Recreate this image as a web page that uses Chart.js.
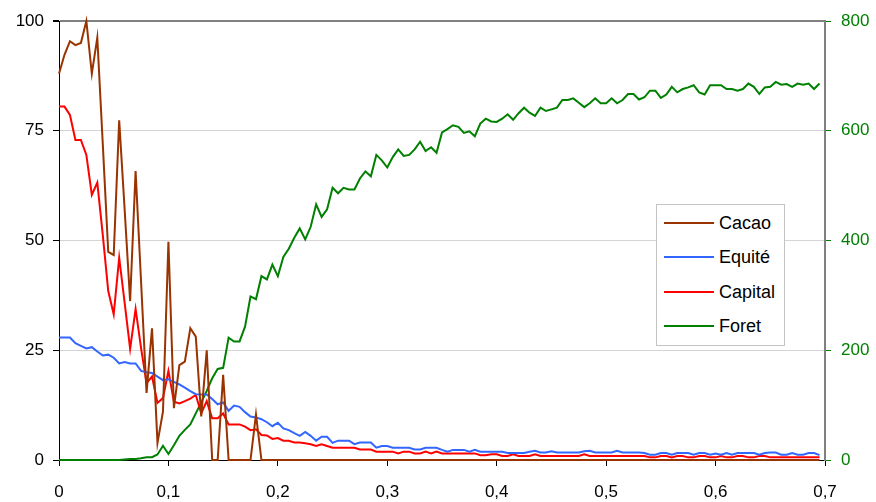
<!DOCTYPE html>
<html>
<head>
<meta charset="utf-8">
<script src="https://cdn.jsdelivr.net/npm/chart.js@4.4.1/dist/chart.umd.min.js"></script>
<style>
  body { margin: 0; background: #fff; }
  #wrap { position: relative; width: 876px; height: 502px; }
  #legend {
    position: absolute; left: 656px; top: 204px; width: 127px; height: 140px;
    border: 1px solid #c4c4c4; background: #fff;
    font-family: "Liberation Sans", Arial, sans-serif; font-size: 18px; color: #000;
  }
  #legend .row { position: absolute; left: 0; height: 20px; line-height: 20px; }
  #legend .swatch { position: absolute; left: 7px; top: 9px; width: 50px; height: 2px; }
  #legend .name { position: absolute; left: 62px; top: 0; white-space: nowrap; }
</style>
</head>
<body>
<div id="wrap">
  <canvas id="chart" width="876" height="502"></canvas>
  <div id="legend"></div>
</div>
<script>
const xValues = [
  0, 0.005, 0.01, 0.015, 0.02, 0.025, 0.03, 0.035, 0.04, 0.045,
  0.05, 0.055, 0.06, 0.065, 0.07, 0.075, 0.08, 0.085, 0.09, 0.095,
  0.1, 0.105, 0.11, 0.115, 0.12, 0.125, 0.13, 0.135, 0.14, 0.145,
  0.15, 0.155, 0.16, 0.165, 0.17, 0.175, 0.18, 0.185, 0.19, 0.195,
  0.2, 0.205, 0.21, 0.215, 0.22, 0.225, 0.23, 0.235, 0.24, 0.245,
  0.25, 0.255, 0.26, 0.265, 0.27, 0.275, 0.28, 0.285, 0.29, 0.295,
  0.3, 0.305, 0.31, 0.315, 0.32, 0.325, 0.33, 0.335, 0.34, 0.345,
  0.35, 0.355, 0.36, 0.365, 0.37, 0.375, 0.38, 0.385, 0.39, 0.395,
  0.4, 0.405, 0.41, 0.415, 0.42, 0.425, 0.43, 0.435, 0.44, 0.445,
  0.45, 0.455, 0.46, 0.465, 0.47, 0.475, 0.48, 0.485, 0.49, 0.495,
  0.5, 0.505, 0.51, 0.515, 0.52, 0.525, 0.53, 0.535, 0.54, 0.545,
  0.55, 0.555, 0.56, 0.565, 0.57, 0.575, 0.58, 0.585, 0.59, 0.595,
  0.6, 0.605, 0.61, 0.615, 0.62, 0.625, 0.63, 0.635, 0.64, 0.645,
  0.65, 0.655, 0.66, 0.665, 0.67, 0.675, 0.68, 0.685, 0.69, 0.695
];

const cacao = [
  88, 92.3, 95.4, 94.5, 95, 100, 88, 96.2, 72, 47.4,
  46.7, 77.4, 57, 36.2, 65.8, 40.6, 15.3, 30, 3.9, 11,
  49.7, 11.8, 21.6, 22.4, 30, 28.1, 9.9, 25, 0, 0,
  19.4, 0, 0, 0, 0, 0, 10.4, 0, 0, 0,
  0, 0, 0, 0, 0, 0, 0, 0, 0, 0,
  0, 0, 0, 0, 0, 0, 0, 0, 0, 0,
  0, 0, 0, 0, 0, 0, 0, 0, 0, 0,
  0, 0, 0, 0, 0, 0, 0, 0, 0, 0,
  0, 0, 0, 0, 0, 0, 0, 0, 0, 0,
  0, 0, 0, 0, 0, 0, 0, 0, 0, 0,
  0, 0, 0, 0, 0, 0, 0, 0, 0, 0,
  0, 0, 0, 0, 0, 0, 0, 0, 0, 0,
  0, 0, 0, 0, 0, 0, 0, 0, 0, 0,
  0, 0, 0, 0, 0, 0, 0, 0, 0, 0
];

const equite = [
  27.9, 27.9, 27.9, 26.6, 26, 25.4, 25.7, 24.7, 23.8, 24,
  23.3, 22, 22.3, 22, 22, 20.3, 20, 19.8, 19, 18.2,
  18.4, 17.8, 17.2, 16.5, 15.7, 15, 14.9, 14.9, 13.9, 12.7,
  13.1, 11.2, 12.4, 12.1, 10.9, 9.9, 9.7, 9.3, 8.6, 7.7,
  8.5, 7.2, 6.8, 6.1, 5.5, 6.4, 5.5, 4.4, 5.3, 5.3,
  3.9, 4.4, 4.4, 4.4, 3.6, 4, 4, 4, 2.8, 3.2,
  3.2, 2.8, 2.8, 2.8, 2.8, 2.4, 2.4, 2.8, 2.8, 2.8,
  2.3, 1.9, 2.3, 2.3, 2.3, 1.9, 2.3, 1.9, 1.9, 1.9,
  1.9, 1.9, 1.6, 1.6, 1.6, 1.6, 1.9, 2.1, 1.7, 1.7,
  2, 1.7, 1.7, 1.7, 1.7, 1.7, 2, 2.1, 1.7, 1.7,
  1.7, 1.7, 2.1, 1.7, 1.7, 1.7, 1.7, 1.6, 1.2, 1.2,
  1.6, 1.6, 1.2, 1.6, 1.6, 1.6, 1.2, 1.6, 1.6, 1.2,
  1.5, 1.2, 1.6, 1.2, 1.6, 1.6, 1.6, 1.6, 1.2, 1.6,
  1.7, 1.7, 1.2, 1.2, 1.6, 1.2, 1.2, 1.6, 1.6, 1.1
];

const capital = [
  80.5, 80.5, 78.6, 72.9, 72.9, 69.5, 60.4, 63.2, 51.3, 38.5,
  33.2, 46.1, 35.8, 25.3, 34.4, 25.5, 17.5, 19, 13, 14.1,
  20.3, 13.3, 12.9, 13.4, 14, 14.8, 10.6, 13.4, 9.5, 9.5,
  10.6, 8.1, 8.1, 8.1, 7.6, 6.8, 7, 5.7, 5.6, 4.8,
  5, 4.4, 4.4, 4, 4, 3.8, 3.6, 3.2, 3.6, 3.2,
  2.8, 2.8, 2.8, 2.8, 2.8, 2.4, 2.4, 2.4, 1.9, 1.9,
  1.9, 1.9, 1.5, 1.9, 1.9, 1.5, 1.5, 1.9, 1.5, 1.9,
  1.5, 1.5, 1.5, 1.5, 1.5, 1.5, 1.5, 1.1, 1.1, 1.3,
  1.3, 0.9, 0.9, 1.3, 0.9, 0.9, 0.9, 1.3, 0.9, 0.9,
  0.9, 0.9, 0.9, 0.9, 0.9, 0.9, 1.3, 0.9, 0.9, 0.9,
  0.9, 0.9, 0.9, 0.9, 0.9, 0.9, 0.9, 0.9, 0.6, 0.6,
  0.9, 0.9, 0.6, 0.9, 0.9, 0.6, 0.6, 0.9, 0.9, 0.6,
  0.6, 0.9, 0.6, 0.6, 0.9, 0.9, 0.6, 0.6, 0.9, 0.9,
  0.6, 0.6, 0.6, 0.6, 0.6, 0.6, 0.6, 0.6, 0.6, 0.6
];

const foret = [
  0, 0, 0, 0, 0, 0, 0, 0, 0, 0,
  0, 0, 1, 2, 2, 3, 5, 5, 10, 26,
  11, 27, 44, 55, 65, 85, 105, 126, 149, 166,
  168, 223, 216, 216, 243, 298, 293, 335, 329, 356,
  335, 370, 385, 405, 422, 402, 425, 466, 443, 457,
  496, 486, 496, 493, 493, 513, 526, 517, 556, 546,
  533, 552, 566, 554, 556, 566, 580, 563, 570, 560,
  597, 603, 610, 607, 596, 599, 590, 613, 622, 617,
  616, 622, 630, 620, 632, 642, 633, 627, 642, 636,
  639, 642, 656, 656, 659, 651, 643, 650, 659, 650,
  650, 659, 650, 656, 667, 667, 657, 661, 673, 673,
  660, 666, 680, 670, 676, 679, 683, 670, 666, 683,
  683, 683, 676, 676, 673, 676, 686, 680, 667, 679,
  680, 689, 684, 685, 680, 686, 684, 686, 676, 686
];

const seriesNames = ["Cacao", "Equité", "Capital", "Foret"];
const seriesColors = ["#993300", "#3366ff", "#ff0000", "#008000"];
const leftTicks = [0, 25, 50, 75, 100];
const rightTicks = [0, 200, 400, 600, 800];
const bottomTicks = [0, 0.1, 0.2, 0.3, 0.4, 0.5, 0.6, 0.7];

const font = { family: "'Liberation Sans', Arial, sans-serif", size: 17 };

function points(values) {
  return values.map((v, i) => ({ x: xValues[i], y: v }));
}

function commaLabel(value) {
  return value === 0 ? "0" : value.toFixed(1).replace(".", ",");
}

const seriesValues = [cacao, equite, capital, foret];

new Chart(document.getElementById("chart"), {
  type: "line",
  data: {
    datasets: seriesNames.map((name, i) => ({
      label: name,
      data: points(seriesValues[i]),
      borderColor: seriesColors[i],
      backgroundColor: seriesColors[i],
      borderWidth: 2,
      pointRadius: 0,
      tension: 0,
      clip: false,
      yAxisID: name === "Foret" ? "y1" : "y"
    }))
  },
  options: {
    responsive: false,
    animation: false,
    devicePixelRatio: 1,
    layout: { padding: { top: 21, left: 0, right: 0, bottom: 0 } },
    plugins: { legend: { display: false }, tooltip: { enabled: false } },
    scales: {
      x: {
        type: "linear",
        min: 0,
        max: 0.7,
        afterBuildTicks(axis) { axis.ticks = bottomTicks.map((v) => ({ value: v })); },
        afterFit(axis) { axis.height = 42; },
        ticks: { color: "#000", font, padding: 16, maxRotation: 0, callback: (v) => commaLabel(v) },
        grid: { drawOnChartArea: false, drawTicks: true, tickLength: 6, tickColor: "#000" },
        border: { color: "#000", width: 1 }
      },
      y: {
        position: "left",
        min: 0,
        max: 100,
        afterBuildTicks(axis) { axis.ticks = leftTicks.map((v) => ({ value: v })); },
        afterFit(axis) { axis.width = 59; },
        ticks: { color: "#000", font, padding: 9 },
        grid: {
          color: (ctx) => (ctx.tick && ctx.tick.value === 100 ? "#808080" : "#d4d4d4"),
          lineWidth: (ctx) => (ctx.tick && ctx.tick.value === 100 ? 2 : 1),
          tickLength: 6,
          tickColor: "#000"
        },
        border: { color: "#000", width: 1 }
      },
      y1: {
        position: "right",
        min: 0,
        max: 800,
        afterBuildTicks(axis) { axis.ticks = rightTicks.map((v) => ({ value: v })); },
        afterFit(axis) { axis.width = 51; },
        ticks: { color: "#008000", font, padding: 10 },
        grid: { drawOnChartArea: false, tickLength: 6, tickColor: "#008000" },
        border: { color: "#808080", width: 2 }
      }
    }
  }
});

const legend = document.getElementById("legend");
const rowTops = [8, 42, 77, 111];
seriesNames.forEach((name, i) => {
  const row = document.createElement("div");
  row.className = "row";
  row.style.top = rowTops[i] + "px";
  row.innerHTML = `<span class="swatch" style="background:${seriesColors[i]}"></span><span class="name">${name}</span>`;
  legend.appendChild(row);
});
</script>
</body>
</html>
